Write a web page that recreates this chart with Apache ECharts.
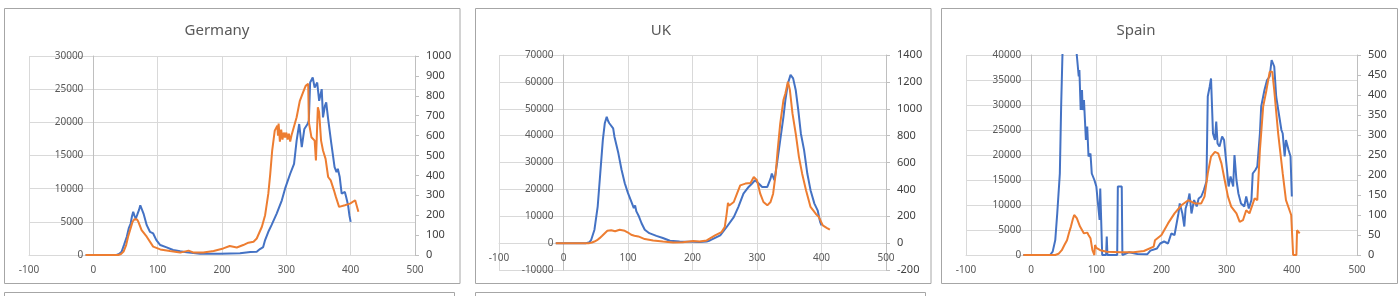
<!DOCTYPE html>
<html>
<head>
<meta charset="utf-8">
<script src="https://cdn.jsdelivr.net/npm/echarts@6/dist/echarts.min.js"></script>
<style>
  html, body { margin: 0; padding: 0; background: #fff; }
  #chart { width: 1400px; height: 296px; }
</style>
</head>
<body>
<div id="chart"></div>
<script>
// Germany - cases (blue, left axis) and deaths (orange, right axis)
const deCaseDays = [-12, 36, 40, 44, 48, 52, 55, 58, 60, 62, 64, 66, 68, 71, 73, 75, 78, 83, 88, 93, 98, 104, 114, 124, 135, 145, 166, 197, 228, 244, 254, 259, 264, 267, 272, 277, 285, 293, 298, 306, 312, 316, 320, 324, 328, 333, 335, 337, 341, 344, 348, 351, 355, 357, 360, 362, 365, 370, 375, 378, 380, 383, 386, 391, 393, 396, 398, 400];
const deCases = [0, 0, 150, 500, 1600, 2750, 4000, 4750, 5800, 6500, 5900, 5500, 6000, 6800, 7500, 7250, 6250, 4500, 3500, 3250, 2250, 1500, 1150, 750, 550, 400, 200, 200, 250, 450, 500, 900, 1200, 2250, 3500, 4500, 6250, 8250, 10000, 12250, 13750, 17250, 19750, 16250, 19000, 19750, 20250, 26000, 26750, 25250, 26000, 23250, 25000, 20750, 22500, 23000, 20500, 16750, 13250, 12500, 13000, 11750, 9250, 9500, 8750, 7500, 6000, 5000];
const deDeathDays = [-12, 39, 43, 47, 51, 54, 58, 61, 64, 66, 68, 70, 75, 83, 93, 104, 119, 135, 148, 155, 171, 187, 202, 212, 223, 233, 241, 249, 254, 262, 267, 272, 275, 278, 282, 286, 287, 288, 290, 292, 294, 296, 298, 300, 302, 304, 306, 308, 311, 316, 321, 326, 330, 333, 334, 335, 339, 344, 346, 349, 351, 354, 357, 361, 365, 369, 374, 377, 382, 385, 391, 399, 407, 409, 412];
const deDeaths = [0, 0, 5, 17, 50, 92, 135, 167, 180, 183, 178, 167, 125, 92, 42, 28, 20, 12, 22, 13, 12, 20, 33, 45, 38, 50, 62, 67, 83, 142, 200, 308, 408, 525, 625, 650, 600, 660, 570, 630, 580, 615, 590, 615, 580, 610, 570, 600, 590, 692, 775, 817, 850, 858, 860, 667, 592, 575, 475, 742, 717, 575, 525, 483, 392, 375, 325, 292, 242, 233, 250, 258, 275, 280, 217];

// UK
const ukCaseDays = [-12, 35, 40, 43, 48, 53, 57, 61, 64, 67, 69, 71, 74, 77, 79, 85, 90, 95, 100, 105, 109, 111, 113, 115, 117, 121, 126, 133, 144, 154, 165, 180, 201, 211, 222, 227, 243, 253, 264, 271, 279, 287, 292, 297, 300, 303, 308, 316, 321, 323, 327, 331, 336, 341, 344, 348, 352, 356, 360, 364, 368, 373, 378, 383, 389, 394, 398, 400];
const ukCases = [0, 0, 300, 1240, 5000, 13600, 26000, 38400, 44600, 47000, 45500, 44600, 44000, 42700, 39600, 33500, 27300, 22300, 18600, 15500, 13000, 14000, 11800, 12500, 9900, 7400, 5000, 3700, 2700, 1900, 870, 620, 500, 400, 620, 1000, 2860, 6000, 9700, 13400, 18400, 20900, 22100, 23400, 23000, 22100, 20900, 20900, 24000, 25900, 23400, 29600, 38300, 47000, 53200, 59500, 62600, 61300, 57000, 49500, 40800, 34600, 25900, 19700, 14700, 12200, 7800, 6600];
const ukDeathDays = [-12, 40, 44, 48, 52, 56, 60, 64, 68, 71, 74, 77, 80, 82, 87, 90, 95, 100, 105, 110, 116, 126, 139, 154, 170, 185, 201, 211, 222, 224, 235, 245, 250, 253, 255, 257, 258, 260, 264, 269, 274, 282, 290, 295, 297, 300, 305, 310, 316, 321, 325, 329, 332, 336, 341, 344, 348, 351, 355, 360, 365, 370, 376, 383, 391, 396, 402, 408, 413];
const ukDeaths = [0, 0, 5, 12, 22, 37, 55, 74, 92, 99, 96, 94, 88, 84, 99, 97, 92, 79, 62, 55, 50, 30, 20, 12, 5, 7, 15, 12, 20, 32, 57, 82, 119, 219, 300, 280, 269, 290, 306, 368, 430, 443, 448, 492, 505, 468, 368, 306, 281, 306, 368, 517, 691, 890, 1064, 1114, 1201, 1139, 965, 816, 642, 517, 393, 269, 219, 194, 132, 114, 100];

// Spain
const esCaseDays = [-12, 29, 33, 37, 40, 44, 46, 48, 50, 58, 66, 70, 73, 74, 76, 78, 79, 81, 84, 86, 88, 91, 93, 97, 100, 102, 105, 106, 108, 109, 115, 116, 117, 132, 133, 139, 140, 150, 163, 178, 183, 193, 198, 200, 204, 205, 210, 215, 220, 226, 228, 232, 235, 237, 241, 243, 246, 250, 254, 257, 261, 265, 269, 271, 274, 276, 279, 282, 284, 286, 289, 293, 296, 299, 303, 306, 310, 312, 315, 318, 322, 327, 330, 334, 338, 340, 344, 347, 351, 353, 358, 362, 366, 369, 373, 376, 380, 384, 386, 389, 391, 395, 398, 400];
const esCases = [0, 0, 670, 3000, 8300, 16300, 29700, 40000, 45000, 52000, 46000, 40000, 35700, 37000, 29000, 33000, 29000, 31000, 23000, 25700, 19700, 20300, 16300, 15000, 13700, 11000, 7000, 13300, 13700, 0, 0, 3700, 0, 0, 13700, 13700, 0, 530, 200, 130, 870, 1300, 2300, 2000, 2700, 3000, 2300, 4300, 4000, 8300, 10300, 8300, 5700, 9300, 11000, 12300, 8300, 11000, 9700, 11300, 11700, 13000, 14700, 31700, 33700, 35300, 24300, 23000, 26700, 22300, 21700, 23700, 23000, 19000, 13700, 15700, 13700, 20000, 15000, 12300, 10300, 9700, 11700, 9300, 11000, 16300, 17000, 17700, 24300, 29700, 33000, 35000, 35700, 39000, 37700, 31700, 28300, 25000, 24300, 19700, 23000, 21000, 19700, 11700];
const esDeathDays = [-12, 37, 42, 47, 51, 55, 58, 61, 64, 66, 68, 70, 75, 81, 83, 86, 88, 91, 94, 97, 98, 100, 106, 116, 137, 157, 173, 188, 190, 200, 210, 220, 231, 241, 251, 261, 266, 271, 276, 282, 287, 292, 297, 302, 307, 315, 320, 325, 330, 335, 343, 347, 351, 356, 361, 366, 370, 373, 379, 386, 391, 399, 401, 402, 407, 408, 412];
const esDeaths = [0, 0, 3, 12, 25, 37, 55, 71, 90, 100, 98, 92, 71, 54, 52, 56, 50, 42, 12, 0, 25, 18, 12, 8, 7, 7, 10, 21, 37, 50, 79, 104, 125, 137, 129, 129, 146, 204, 246, 258, 254, 229, 187, 146, 121, 104, 83, 87, 112, 104, 142, 137, 262, 371, 412, 458, 458, 412, 304, 204, 137, 100, 96, 0, 0, 62, 54];

// axis ranges [min, max, step]
const titles = ["Germany", "UK", "Spain"];
const leftRanges = [[0, 30000, 5000], [-10000, 70000, 10000], [0, 40000, 5000]];
const rightRanges = [[0, 1000, 100], [-200, 1400, 200], [0, 500, 50]];
const xRange = [-100, 500, 100];

const blue = "#4472C4";
const orange = "#ED7D31";
const font = "'Noto Sans', 'Liberation Sans', sans-serif";

// layout of the three panels (pixels)
const panels = [
  { box: [4.5, 8.5, 455.5, 275], grid: { left: 29, top: 56, width: 386, height: 199 }, titleX: 217 },
  { box: [475.5, 8.5, 455.5, 275], grid: { left: 499, top: 55, width: 387, height: 215 }, titleX: 661 },
  { box: [941.5, 8.5, 456, 275], grid: { left: 966, top: 55, width: 391, height: 200 }, titleX: 1136 },
];

const plain = (v) => String(v);
const pairs = (days, vals) => days.map((d, i) => [d, vals[i]]);
const seriesData = [
  [pairs(deCaseDays, deCases), pairs(deDeathDays, deDeaths)],
  [pairs(ukCaseDays, ukCases), pairs(ukDeathDays, ukDeaths)],
  [pairs(esCaseDays, esCases), pairs(esDeathDays, esDeaths)],
];

const grid = [], xAxis = [], yAxis = [], series = [], title = [], graphic = [];
const gridLine = { show: true, lineStyle: { color: "#d9d9d9", width: 1 } };
const noBounds = { containLabel: false, outerBoundsMode: "none" };

panels.forEach((p, i) => {
  grid.push(Object.assign({}, noBounds, p.grid));
  title.push({
    text: titles[i],
    left: p.titleX,
    top: 23,
    textAlign: "center",
    padding: 0,
    textStyle: { fontFamily: font, fontSize: 15, fontWeight: "normal", color: "#595959" },
  });
  graphic.push({
    type: "rect",
    shape: { x: p.box[0], y: p.box[1], width: p.box[2], height: p.box[3] },
    style: { fill: "none", stroke: "#a6a6a6", lineWidth: 1 },
    silent: true,
  });
  xAxis.push({
    gridIndex: i,
    type: "value",
    min: xRange[0],
    max: xRange[1],
    interval: xRange[2],
    axisLine: { show: false },
    axisTick: { show: false },
    axisLabel: { show: false },
    splitLine: gridLine,
  });
  const l = leftRanges[i];
  yAxis.push({
    gridIndex: i,
    type: "value",
    position: "left",
    min: l[0],
    max: l[1],
    interval: l[2],
    axisLine: { show: false, onZero: false },
    axisTick: { show: false },
    axisLabel: { show: false },
    splitLine: gridLine,
  });
  const r = rightRanges[i];
  yAxis.push({
    gridIndex: i,
    type: "value",
    position: "right",
    min: r[0],
    max: r[1],
    interval: r[2],
    axisLine: { show: true, onZero: false, lineStyle: { color: "#bfbfbf", width: 1 } },
    axisTick: { show: true, length: 4, lineStyle: { color: "#bfbfbf" } },
    axisLabel: { color: "#404040", fontSize: 11, fontFamily: font, margin: 11, formatter: plain, showMinLabel: true, showMaxLabel: true },
    splitLine: { show: false },
  });
  series.push({
    name: titles[i] + " cases",
    type: "line",
    xAxisIndex: i,
    yAxisIndex: i * 2,
    data: seriesData[i][0],
    showSymbol: false,
    symbol: "none",
    clip: true,
    z: 2,
    lineStyle: { color: blue, width: 2 },
  });
  series.push({
    name: titles[i] + " deaths",
    type: "line",
    xAxisIndex: i,
    yAxisIndex: i * 2 + 1,
    data: seriesData[i][1],
    showSymbol: false,
    symbol: "none",
    clip: true,
    z: 2,
    lineStyle: { color: orange, width: 2 },
  });
});

// Excel style: the axes cross at zero, so the primary axis labels sit next to
// x = 0 and y = 0. Each panel gets two thin helper grids anchored on those lines.
panels.forEach((p, i) => {
  const l = leftRanges[i];
  const zeroX = p.grid.left + p.grid.width * (0 - xRange[0]) / (xRange[1] - xRange[0]);
  const zeroY = p.grid.top + p.grid.height * (l[1] - 0) / (l[1] - l[0]);

  // vertical axis at x = 0 with its labels
  grid.push(Object.assign({}, noBounds, { left: zeroX, top: p.grid.top, width: 10, height: p.grid.height }));
  xAxis.push({ gridIndex: grid.length - 1, type: "value", min: 0, max: 1, show: false });
  yAxis.push({
    gridIndex: grid.length - 1,
    type: "value",
    position: "left",
    min: l[0],
    max: l[1],
    interval: l[2],
    axisLine: { show: true, onZero: false, lineStyle: { color: "#bfbfbf", width: 1 } },
    axisTick: { show: false },
    splitLine: { show: false },
    axisLabel: { color: "#595959", fontSize: 10, fontFamily: font, margin: 10, formatter: plain, showMinLabel: true, showMaxLabel: true },
  });

  // horizontal axis at y = 0 with its labels
  grid.push(Object.assign({}, noBounds, { left: p.grid.left, top: p.grid.top, width: p.grid.width, height: zeroY - p.grid.top }));
  xAxis.push({
    gridIndex: grid.length - 1,
    type: "value",
    position: "bottom",
    min: xRange[0],
    max: xRange[1],
    interval: xRange[2],
    axisLine: { show: true, onZero: false, lineStyle: { color: "#d9d9d9", width: 1 } },
    axisTick: { show: false },
    splitLine: { show: false },
    axisLabel: { color: "#595959", fontSize: 10, fontFamily: font, margin: 10, formatter: plain, showMinLabel: true, showMaxLabel: true, hideOverlap: false },
  });
  yAxis.push({ gridIndex: grid.length - 1, type: "value", min: 0, max: 1, show: false });
});

// tops of the next row of panels, cut off by the page edge
graphic.push({ type: "rect", shape: { x: 4.5, y: 292.5, width: 450, height: 40 }, style: { fill: "none", stroke: "#a6a6a6", lineWidth: 1 }, silent: true });
graphic.push({ type: "rect", shape: { x: 475.5, y: 292.5, width: 450, height: 40 }, style: { fill: "none", stroke: "#a6a6a6", lineWidth: 1 }, silent: true });

const chart = echarts.init(document.getElementById("chart"));
chart.setOption({
  animation: false,
  backgroundColor: "#fff",
  title,
  grid,
  xAxis,
  yAxis,
  series,
  graphic,
});
</script>
</body>
</html>
